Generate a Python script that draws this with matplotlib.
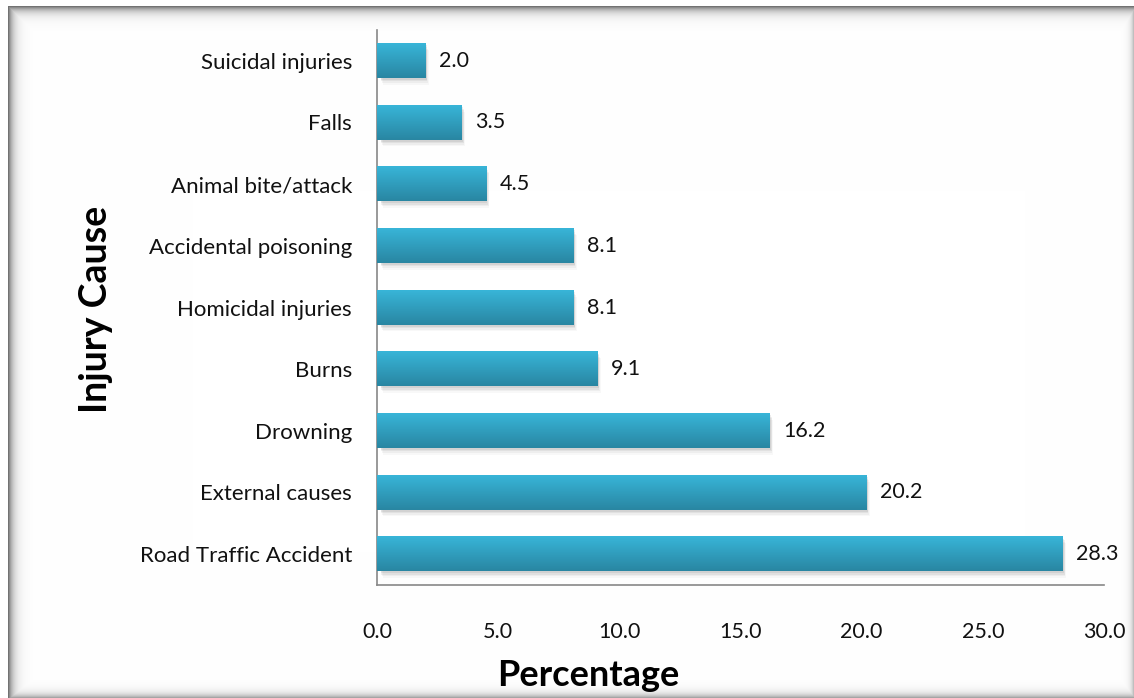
import numpy as np
import matplotlib
matplotlib.use("Agg")
import matplotlib.pyplot as plt
from matplotlib.patches import Rectangle

# Injury causes and their share (%)
causes = ["Road Traffic Accident", "External causes", "Drowning", "Burns",
          "Homicidal injuries", "Accidental poisoning", "Animal bite/attack",
          "Falls", "Suicidal injuries"]
percent = [28.3, 20.2, 16.2, 9.1, 8.1, 8.1, 4.5, 3.5, 2.0]
xticks = [0, 5, 10, 15, 20, 25, 30]

W, H, DPI = 1134, 698, 100
plt.rcParams["font.family"] = ["Lato", "DejaVu Sans"]

fig = plt.figure(figsize=(W / DPI, H / DPI), dpi=DPI)

# Shaded picture frame drawn on a background axes covering the figure
bg = fig.add_axes([0, 0, 1, 1], zorder=-10)
bg.set_axis_off()
yy, xx = np.mgrid[0:H, 0:W].astype(float)
x0, x1, y0, y1 = 8, 1133, 6, 697
inside = (xx >= x0) & (xx <= x1) & (yy >= y0) & (yy <= y1)
shade = np.zeros((H, W))
shade = np.maximum(shade, 0.55 * np.exp(-(xx - x0) / 5.0))
shade = np.maximum(shade, 0.55 * np.exp(-(yy - y0) / 5.0))
shade = np.maximum(shade, 0.35 * np.exp(-(y1 - yy) / 4.0))
shade = np.maximum(shade, 0.25 * np.exp(-(x1 - xx) / 3.0))
shade[~inside] = 0
img = np.ones((H, W, 3)) * (1 - shade)[..., None]
bg.imshow(img, extent=[0, 1, 0, 1], aspect="auto", interpolation="bilinear")
bg.set_xlim(0, 1)
bg.set_ylim(0, 1)

# Main plotting area (pixel bounds converted to figure fractions)
L, R, T, B = 377, 1104, 30, 585
ax = fig.add_axes([L / W, 1 - B / H, (R - L) / W, (B - T) / H])
ax.set_facecolor("none")

y = np.arange(len(causes))
bar_h = 0.56
bars = ax.barh(y, percent, height=bar_h, color="none", edgecolor="none", zorder=3)

# Vertical gradient for each bar, with a soft drop shadow beneath
grad = np.linspace(0, 1, 64)[:, None]
top_c = np.array([0x38, 0xB5, 0xD8]) / 255
bot_c = np.array([0x29, 0x86, 0xA2]) / 255
grad_img = top_c * (1 - grad[..., None]) + bot_c * grad[..., None]
for rect, v in zip(bars, percent):
    yb = rect.get_y()
    for k, a in enumerate([0.10, 0.08, 0.06, 0.04]):
        off = 0.03 + 0.025 * k
        ax.add_patch(Rectangle((0.15 + 0.03 * k, yb - off), v - 0.1,
                               bar_h, color="#555555", alpha=a, lw=0, zorder=2))
    ax.imshow(grad_img, extent=[0, v, yb, yb + bar_h], origin="upper",
              aspect="auto", zorder=3, interpolation="bilinear")
    ax.text(v + 0.55, rect.get_y() + bar_h / 2, f"{v:.1f}", va="center",
            ha="left", fontsize=15.5, color="#111111", zorder=4)

ax.set_xlim(0, 30)
ax.set_ylim(-0.5, len(causes) - 0.5)
ax.set_xticks(xticks)
ax.set_xticklabels([f"{t:.1f}" for t in xticks], fontsize=15.5, color="#111111")
ax.set_yticks(y)
ax.set_yticklabels(causes, fontsize=16, color="#111111")
ax.tick_params(axis="both", length=0)
ax.tick_params(axis="y", pad=18)
ax.tick_params(axis="x", pad=27)
for s in ["top", "right"]:
    ax.spines[s].set_visible(False)
for s in ["left", "bottom"]:
    ax.spines[s].set_color("#888888")
    ax.spines[s].set_linewidth(1.2)

fig.text(588 / W, 1 - 675 / H, "Percentage", fontsize=26, fontweight="bold",
         ha="center", va="center")
fig.text(96 / W, 1 - 309 / H, "Injury Cause", fontsize=27, fontweight="bold",
         ha="center", va="center", rotation=90)

fig.savefig("out.png", dpi=DPI)
